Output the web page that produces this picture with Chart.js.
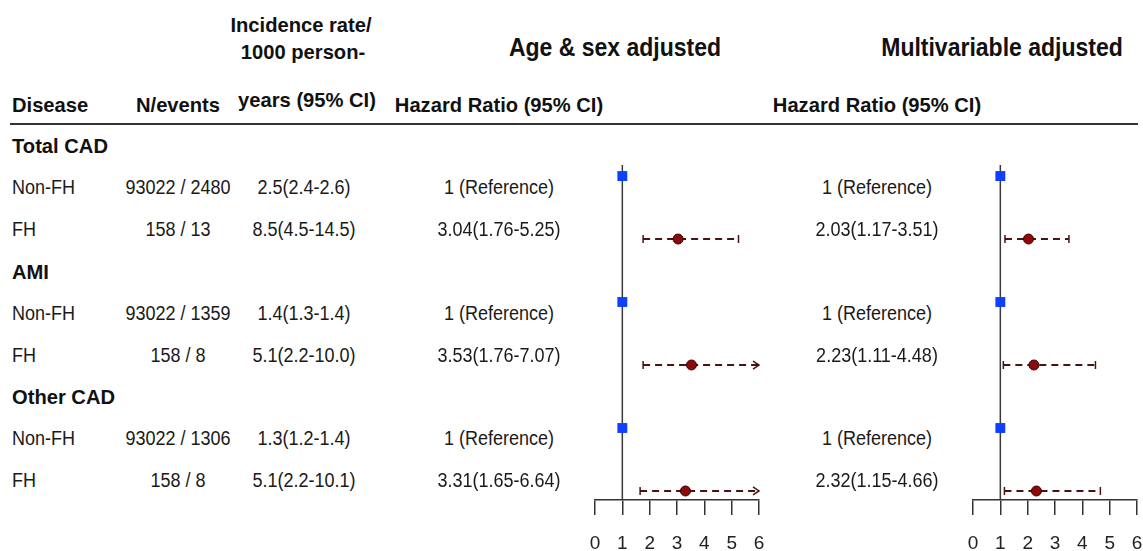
<!DOCTYPE html>
<html>
<head>
<meta charset="utf-8">
<script src="https://cdn.jsdelivr.net/npm/chart.js@4.4.1/dist/chart.umd.min.js"></script>
<style>
  html, body { margin: 0; padding: 0; background: #fff; }
  #page { position: relative; width: 1143px; height: 551px; overflow: hidden; font-family: 'Liberation Sans', Arial, sans-serif; color: #1a1a1a; }
  .t { position: absolute; white-space: nowrap; line-height: 1; }
  .c { transform: translate(-50%, -50%) scaleX(0.9); }
  .l { transform: translate(0, -50%) scaleX(0.9); transform-origin: left center; }
  .b { font-weight: bold; color: #111; }
  .c.b { transform: translate(-50%, -50%) scaleX(0.96); }
  .l.b { transform: translate(0, -50%) scaleX(0.96); }
  .c.ttl { transform: translate(-50%, -50%) scaleX(0.92); }
  .rule { position: absolute; left: 10px; top: 123px; width: 1128px; height: 2px; background: #333; }
  canvas { position: absolute; }
</style>
</head>
<body>
<div id="page">
  <div class="rule"></div>
  <canvas id="plotAge" width="230" height="401" style="left:560px; top:150px;"></canvas>
  <canvas id="plotMulti" width="220" height="401" style="left:940px; top:150px;"></canvas>
</div>
<script>
// table data
const diseases = ['Total CAD', 'AMI', 'Other CAD'];
const groups = ['Non-FH', 'FH'];
const nEvents = ['93022 / 2480', '158 / 13', '93022 / 1359', '158 / 8', '93022 / 1306', '158 / 8'];
const incidence = ['2.5(2.4-2.6)', '8.5(4.5-14.5)', '1.4(1.3-1.4)', '5.1(2.2-10.0)', '1.3(1.2-1.4)', '5.1(2.2-10.1)'];

// hazard ratios (null = reference group)
const ageSexHR = [1, 3.04, 1, 3.53, 1, 3.31];
const ageSexLo = [null, 1.76, null, 1.76, null, 1.65];
const ageSexHi = [null, 5.25, null, 7.07, null, 6.64];
const multiHR = [1, 2.03, 1, 2.23, 1, 2.32];
const multiLo = [null, 1.17, null, 1.11, null, 1.15];
const multiHi = [null, 3.51, null, 4.48, null, 4.66];

const xTicks = [0, 1, 2, 3, 4, 5, 6];

const page = document.getElementById('page');

function addText(str, x, y, size, cls) {
    const d = document.createElement('div');
    d.className = 't ' + cls;
    d.style.left = x + 'px';
    d.style.top = y + 'px';
    d.style.fontSize = size + 'px';
    d.textContent = str;
    page.appendChild(d);
}

const hrText = (hr, lo, hi) => lo == null ? '1 (Reference)' : `${hr.toFixed(2)}(${lo.toFixed(2)}-${hi.toFixed(2)})`;

// headers
addText('Incidence rate/', 301, 24, 21, 'c b');
addText('1000 person-', 303, 51, 21, 'c b');
addText('years (95% CI)', 307, 99, 21, 'c b');
addText('Disease', 12, 104, 21, 'l b');
addText('N/events', 178, 104, 21, 'c b');
addText('Hazard Ratio (95% CI)', 499, 104, 21, 'c b');
addText('Hazard Ratio (95% CI)', 877, 104, 21, 'c b');
addText('Age & sex adjusted', 615, 47, 25, 'c b ttl');
addText('Multivariable adjusted', 1002, 47, 25, 'c b ttl');

// table rows
const rowStep = 41.9;
diseases.forEach((dz, d) => {
    addText(dz, 12, 145 + rowStep * 3 * d, 21, 'l b');
    groups.forEach((g, k) => {
        const i = d * 2 + k;
        const y = 145 + rowStep * (3 * d + k + 1);
        addText(g, 12, y, 20, 'l');
        addText(nEvents[i], 178, y, 20, 'c');
        addText(incidence[i], 304, y, 20, 'c');
        addText(hrText(ageSexHR[i], ageSexLo[i], ageSexHi[i]), 499, y, 20, 'c');
        addText(hrText(multiHR[i], multiLo[i], multiHi[i]), 877, y, 20, 'c');
    });
});

// dashed CI whiskers + line of no effect
const forestLines = {
    id: 'forestLines',
    beforeDatasetsDraw(chart, args, opts) {
        const { ctx, chartArea, scales: { x, y } } = chart;
        ctx.save();
        const x1 = x.getPixelForValue(1);
        ctx.strokeStyle = '#3a3a3a';
        ctx.lineWidth = 1.5;
        ctx.beginPath();
        ctx.moveTo(x1, chartArea.top);
        ctx.lineTo(x1, chartArea.bottom);
        ctx.stroke();

        ctx.strokeStyle = '#4a1212';
        ctx.lineWidth = 2;
        opts.lo.forEach((lo, i) => {
            if (lo == null) return;
            const hi = opts.hi[i];
            const py = y.getPixelForValue(i);
            const pl = x.getPixelForValue(lo);
            const clipped = hi > x.max;
            const ph = x.getPixelForValue(Math.min(hi, x.max));
            ctx.setLineDash([7, 5]);
            ctx.beginPath();
            ctx.moveTo(pl, py);
            ctx.lineTo(ph, py);
            ctx.stroke();
            ctx.setLineDash([]);
            ctx.lineWidth = 1.5;
            ctx.beginPath();
            ctx.moveTo(pl, py - 4);
            ctx.lineTo(pl, py + 4);
            if (clipped) {
                ctx.moveTo(ph - 6, py - 4);
                ctx.lineTo(ph, py);
                ctx.lineTo(ph - 6, py + 4);
            } else {
                ctx.moveTo(ph, py - 4);
                ctx.lineTo(ph, py + 4);
            }
            ctx.stroke();
            ctx.lineWidth = 2;
        });
        ctx.restore();
    }
};

function makePlot(id, hr, lo, hi, padLeft, padRight) {
    const refPts = [];
    const estPts = [];
    hr.forEach((v, i) => {
        if (lo[i] == null) refPts.push({ x: v, y: i });
        else estPts.push({ x: v, y: i });
    });

    new Chart(document.getElementById(id), {
        type: 'scatter',
        data: {
            datasets: [
                { data: refPts, pointStyle: 'rect', radius: 7, backgroundColor: '#1040ff', borderColor: '#1040ff', borderWidth: 0 },
                { data: estPts, pointStyle: 'circle', radius: 5, backgroundColor: '#8b0a0a', borderColor: '#3a0000', borderWidth: 1 }
            ]
        },
        options: {
            responsive: false,
            animation: false,
            layout: { padding: { left: padLeft, right: padRight, top: 15, bottom: 0 } },
            plugins: {
                legend: { display: false },
                tooltip: { enabled: false },
                forestLines: { lo: lo, hi: hi }
            },
            scales: {
                x: {
                    type: 'linear',
                    min: 0,
                    max: 6,
                    afterBuildTicks: s => { s.ticks = xTicks.map(v => ({ value: v })); },
                    afterFit: s => { s.height = 51; },
                    ticks: { color: '#222', padding: 17, font: { family: 'Liberation Sans', size: 19 } },
                    grid: { drawOnChartArea: false, drawTicks: true, tickLength: 15, color: '#333', lineWidth: 1.5 },
                    border: { display: true, color: '#333', width: 1.5 }
                },
                y: {
                    type: 'linear',
                    display: false,
                    reverse: true,
                    min: -0.175,
                    max: 5.143
                }
            }
        },
        plugins: [forestLines]
    });
}

makePlot('plotAge', ageSexHR, ageSexLo, ageSexHi, 35, 31);
makePlot('plotMulti', multiHR, multiLo, multiHi, 33, 23);
</script>
</body>
</html>
